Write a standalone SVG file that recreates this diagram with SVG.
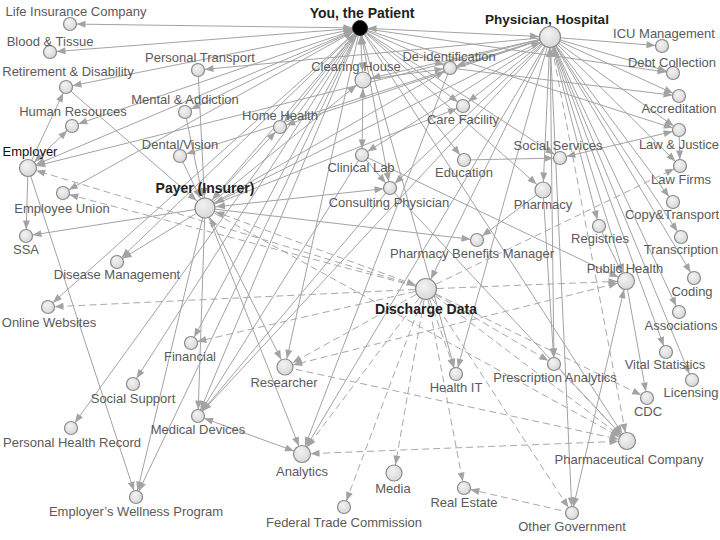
<svg xmlns="http://www.w3.org/2000/svg" width="720" height="540" viewBox="0 0 720 540">
<defs>
<style>
.e{stroke:#a3a3a3;stroke-width:1;fill:none}
.d{stroke:#a8a8a8;stroke-width:1;fill:none;stroke-dasharray:7,4}
.n{fill:url(#g);stroke:#8a8a8a;stroke-width:1.2}
text{font-family:"Liberation Sans",Arial,Helvetica,sans-serif;font-size:13px;fill:#5a5a5a;text-anchor:middle}
.b{font-weight:bold;fill:#222;font-size:14px}
.k{fill:#111}
</style>
<radialGradient id="g" cx="40%" cy="35%" r="70%"><stop offset="0" stop-color="#f3f3f3"/><stop offset="1" stop-color="#d6d6d6"/></radialGradient>
<marker id="ms" markerUnits="userSpaceOnUse" markerWidth="10" markerHeight="8" refX="15.5" refY="3.5" orient="auto-start-reverse" overflow="visible"><path d="M0,0 L9,3.5 L0,7 z" fill="#a3a3a3"/></marker>
<marker id="mm" markerUnits="userSpaceOnUse" markerWidth="10" markerHeight="8" refX="17.5" refY="3.5" orient="auto-start-reverse" overflow="visible"><path d="M0,0 L9,3.5 L0,7 z" fill="#a3a3a3"/></marker>
<marker id="mb" markerUnits="userSpaceOnUse" markerWidth="10" markerHeight="8" refX="20" refY="3.5" orient="auto-start-reverse" overflow="visible"><path d="M0,0 L9,3.5 L0,7 z" fill="#a3a3a3"/></marker>
<marker id="mp" markerUnits="userSpaceOnUse" markerWidth="10" markerHeight="8" refX="16.5" refY="3.5" orient="auto-start-reverse" overflow="visible"><path d="M0,0 L9,3.5 L0,7 z" fill="#a3a3a3"/></marker>
</defs>
<rect width="720" height="540" fill="#fff"/>
<g id="connectors">
<line class="e" x1="360" y1="28" x2="70" y2="24" marker-start="url(#mp)" marker-end="url(#ms)"/>
<line class="e" x1="360" y1="28" x2="50" y2="52" marker-start="url(#mp)" marker-end="url(#ms)"/>
<line class="e" x1="360" y1="28" x2="66" y2="87" marker-start="url(#mp)" marker-end="url(#ms)"/>
<line class="e" x1="360" y1="28" x2="72" y2="126" marker-start="url(#mp)" marker-end="url(#ms)"/>
<line class="e" x1="360" y1="28" x2="28" y2="168" marker-start="url(#mp)" marker-end="url(#mm)"/>
<line class="e" x1="360" y1="28" x2="63" y2="193" marker-start="url(#mp)" marker-end="url(#ms)"/>
<line class="e" x1="360" y1="28" x2="185" y2="112" marker-start="url(#mp)" marker-end="url(#ms)"/>
<line class="e" x1="360" y1="28" x2="280" y2="127" marker-start="url(#mp)" marker-end="url(#ms)"/>
<line class="e" x1="360" y1="28" x2="48" y2="307" marker-end="url(#ms)"/>
<line class="e" x1="360" y1="28" x2="117" y2="262" marker-end="url(#ms)"/>
<line class="e" x1="360" y1="28" x2="363" y2="80" marker-start="url(#mp)" marker-end="url(#mm)"/>
<line class="e" x1="360" y1="28" x2="450" y2="68" marker-end="url(#ms)"/>
<line class="e" x1="360" y1="28" x2="463" y2="106" marker-end="url(#ms)"/>
<line class="e" x1="360" y1="28" x2="464" y2="160" marker-end="url(#ms)"/>
<line class="e" x1="360" y1="28" x2="390" y2="188" marker-start="url(#mp)" marker-end="url(#ms)"/>
<line class="e" x1="360" y1="28" x2="550" y2="37" marker-start="url(#mp)" marker-end="url(#mb)"/>
<line class="e" x1="360" y1="28" x2="205" y2="208" marker-start="url(#mp)" marker-end="url(#mb)"/>
<line class="e" x1="360" y1="28" x2="543" y2="190" marker-end="url(#mm)"/>
<line class="e" x1="360" y1="28" x2="673" y2="73" marker-end="url(#ms)"/>
<line class="e" x1="360" y1="28" x2="679" y2="130" marker-end="url(#ms)"/>
<line class="e" x1="360" y1="28" x2="191" y2="343" marker-end="url(#ms)"/>
<line class="e" x1="360" y1="28" x2="133" y2="384" marker-end="url(#ms)"/>
<line class="e" x1="360" y1="28" x2="71" y2="428" marker-end="url(#ms)"/>
<line class="e" x1="360" y1="28" x2="198" y2="416" marker-end="url(#ms)"/>
<line class="e" x1="360" y1="28" x2="136" y2="497" marker-end="url(#ms)"/>
<line class="e" x1="360" y1="28" x2="285" y2="367" marker-end="url(#mm)"/>
<line class="e" x1="360" y1="28" x2="627" y2="441" marker-end="url(#mm)"/>
<line class="e" x1="360" y1="28" x2="456" y2="374" marker-end="url(#ms)"/>
<line class="e" x1="360" y1="28" x2="560" y2="158" marker-end="url(#ms)"/>
<line class="e" x1="550" y1="37" x2="662" y2="46" marker-end="url(#ms)"/>
<line class="e" x1="550" y1="37" x2="673" y2="73" marker-end="url(#ms)"/>
<line class="e" x1="550" y1="37" x2="679" y2="96" marker-end="url(#ms)"/>
<line class="e" x1="550" y1="37" x2="679" y2="130" marker-end="url(#ms)"/>
<line class="e" x1="550" y1="37" x2="680" y2="166" marker-end="url(#ms)"/>
<line class="e" x1="550" y1="37" x2="673" y2="202" marker-end="url(#ms)"/>
<line class="e" x1="550" y1="37" x2="681" y2="237" marker-end="url(#ms)"/>
<line class="e" x1="550" y1="37" x2="694" y2="278" marker-end="url(#ms)"/>
<line class="e" x1="550" y1="37" x2="679" y2="312" marker-end="url(#ms)"/>
<line class="e" x1="550" y1="37" x2="666" y2="352" marker-end="url(#ms)"/>
<line class="e" x1="550" y1="37" x2="692" y2="380" marker-end="url(#ms)"/>
<line class="e" x1="550" y1="37" x2="626" y2="281" marker-start="url(#mb)" marker-end="url(#mm)"/>
<line class="e" x1="550" y1="37" x2="599" y2="226" marker-end="url(#ms)"/>
<line class="e" x1="550" y1="37" x2="543" y2="190" marker-start="url(#mb)" marker-end="url(#mm)"/>
<line class="e" x1="550" y1="37" x2="572" y2="513" marker-start="url(#mb)" marker-end="url(#ms)"/>
<line class="d" x1="550" y1="37" x2="627" y2="441" marker-end="url(#mm)"/>
<line class="e" x1="550" y1="37" x2="28" y2="168" marker-end="url(#mm)"/>
<line class="e" x1="550" y1="37" x2="205" y2="208" marker-start="url(#mb)" marker-end="url(#mb)"/>
<line class="e" x1="550" y1="37" x2="198" y2="70" marker-end="url(#ms)"/>
<line class="e" x1="550" y1="37" x2="363" y2="80" marker-end="url(#mm)"/>
<line class="e" x1="550" y1="37" x2="450" y2="68" marker-end="url(#ms)"/>
<line class="e" x1="550" y1="37" x2="463" y2="106" marker-end="url(#ms)"/>
<line class="e" x1="550" y1="37" x2="362" y2="155" marker-end="url(#ms)"/>
<line class="e" x1="550" y1="37" x2="390" y2="188" marker-end="url(#ms)"/>
<line class="e" x1="550" y1="37" x2="280" y2="127" marker-end="url(#ms)"/>
<line class="e" x1="550" y1="37" x2="180" y2="156" marker-end="url(#ms)"/>
<line class="e" x1="550" y1="37" x2="198" y2="416" marker-end="url(#ms)"/>
<line class="e" x1="550" y1="37" x2="302" y2="454" marker-end="url(#mm)"/>
<line class="e" x1="550" y1="37" x2="426" y2="289" marker-end="url(#mb)"/>
<line class="e" x1="550" y1="37" x2="456" y2="374" marker-end="url(#ms)"/>
<line class="e" x1="550" y1="37" x2="554" y2="364" marker-start="url(#mb)" marker-end="url(#ms)"/>
<line class="e" x1="205" y1="208" x2="390" y2="188" marker-start="url(#mb)" marker-end="url(#ms)"/>
<line class="e" x1="205" y1="208" x2="477" y2="240" marker-end="url(#ms)"/>
<line class="e" x1="205" y1="208" x2="280" y2="127" marker-end="url(#ms)"/>
<line class="e" x1="205" y1="208" x2="363" y2="80" marker-end="url(#mm)"/>
<line class="e" x1="205" y1="208" x2="450" y2="68" marker-end="url(#ms)"/>
<line class="e" x1="205" y1="208" x2="463" y2="106" marker-end="url(#ms)"/>
<line class="e" x1="205" y1="208" x2="26" y2="236" marker-end="url(#ms)"/>
<line class="e" x1="205" y1="208" x2="117" y2="262" marker-end="url(#ms)"/>
<line class="e" x1="205" y1="208" x2="285" y2="367" marker-start="url(#mb)" marker-end="url(#mm)"/>
<line class="e" x1="205" y1="208" x2="302" y2="454" marker-end="url(#mm)"/>
<line class="e" x1="205" y1="208" x2="136" y2="497" marker-end="url(#ms)"/>
<line class="e" x1="205" y1="208" x2="198" y2="416" marker-end="url(#ms)"/>
<line class="e" x1="66" y1="87" x2="205" y2="208" marker-end="url(#mb)"/>
<line class="e" x1="198" y1="70" x2="205" y2="208" marker-end="url(#mb)"/>
<line class="e" x1="185" y1="112" x2="205" y2="208" marker-end="url(#mb)"/>
<line class="e" x1="180" y1="156" x2="205" y2="208" marker-end="url(#mb)"/>
<line class="d" x1="205" y1="208" x2="627" y2="441" marker-end="url(#mm)"/>
<line class="d" x1="426" y1="289" x2="205" y2="208" marker-start="url(#mb)" marker-end="url(#mb)"/>
<line class="e" x1="28" y1="168" x2="66" y2="87" marker-end="url(#ms)"/>
<line class="e" x1="28" y1="168" x2="72" y2="126" marker-start="url(#mm)" marker-end="url(#ms)"/>
<line class="e" x1="28" y1="168" x2="26" y2="236" marker-end="url(#ms)"/>
<line class="e" x1="28" y1="168" x2="136" y2="497" marker-end="url(#ms)"/>
<line class="d" x1="426" y1="289" x2="28" y2="168" marker-end="url(#mm)"/>
<line class="d" x1="426" y1="289" x2="63" y2="193" marker-end="url(#ms)"/>
<line class="d" x1="426" y1="289" x2="48" y2="307" marker-end="url(#ms)"/>
<line class="d" x1="426" y1="289" x2="191" y2="343" marker-end="url(#ms)"/>
<line class="d" x1="426" y1="289" x2="285" y2="367" marker-end="url(#mm)"/>
<line class="d" x1="426" y1="289" x2="302" y2="454" marker-end="url(#mm)"/>
<line class="d" x1="426" y1="289" x2="344" y2="507" marker-end="url(#ms)"/>
<line class="d" x1="426" y1="289" x2="394" y2="473" marker-end="url(#mm)"/>
<line class="d" x1="426" y1="289" x2="464" y2="488" marker-end="url(#ms)"/>
<line class="d" x1="426" y1="289" x2="456" y2="374" marker-end="url(#ms)"/>
<line class="d" x1="426" y1="289" x2="554" y2="364" marker-end="url(#ms)"/>
<line class="d" x1="426" y1="289" x2="627" y2="441" marker-end="url(#mm)"/>
<line class="d" x1="426" y1="289" x2="572" y2="513" marker-end="url(#ms)"/>
<line class="d" x1="426" y1="289" x2="647" y2="398" marker-end="url(#ms)"/>
<line class="d" x1="426" y1="289" x2="626" y2="281" marker-end="url(#mm)"/>
<line class="d" x1="426" y1="289" x2="680" y2="166" marker-end="url(#ms)"/>
<line class="e" x1="363" y1="80" x2="362" y2="155" marker-start="url(#mm)" marker-end="url(#ms)"/>
<line class="e" x1="363" y1="80" x2="450" y2="68" marker-end="url(#ms)"/>
<line class="e" x1="362" y1="155" x2="390" y2="188" marker-end="url(#ms)"/>
<line class="e" x1="362" y1="155" x2="626" y2="281" marker-end="url(#mm)"/>
<line class="e" x1="362" y1="155" x2="198" y2="416" marker-end="url(#ms)"/>
<line class="e" x1="464" y1="160" x2="560" y2="158" marker-end="url(#ms)"/>
<line class="e" x1="679" y1="130" x2="560" y2="158" marker-start="url(#ms)" marker-end="url(#ms)"/>
<line class="e" x1="679" y1="130" x2="680" y2="166" marker-end="url(#ms)"/>
<line class="e" x1="543" y1="190" x2="477" y2="240" marker-end="url(#ms)"/>
<line class="e" x1="543" y1="190" x2="554" y2="364" marker-end="url(#ms)"/>
<line class="e" x1="599" y1="226" x2="626" y2="281" marker-end="url(#mm)"/>
<line class="e" x1="626" y1="281" x2="572" y2="513" marker-start="url(#mm)" marker-end="url(#ms)"/>
<line class="e" x1="626" y1="281" x2="647" y2="398" marker-end="url(#ms)"/>
<line class="e" x1="198" y1="416" x2="302" y2="454" marker-start="url(#ms)" marker-end="url(#mm)"/>
<line class="e" x1="450" y1="68" x2="302" y2="454" marker-end="url(#mm)"/>
<line class="e" x1="450" y1="68" x2="679" y2="96" marker-end="url(#ms)"/>
<line class="e" x1="390" y1="188" x2="627" y2="441" marker-end="url(#mm)"/>
<line class="e" x1="390" y1="188" x2="198" y2="416" marker-end="url(#ms)"/>
<line class="d" x1="626" y1="281" x2="285" y2="367" marker-start="url(#mm)" marker-end="url(#mm)"/>
<line class="d" x1="285" y1="367" x2="627" y2="441" marker-end="url(#mm)"/>
<line class="d" x1="627" y1="441" x2="302" y2="454" marker-start="url(#mm)" marker-end="url(#mm)"/>
<line class="d" x1="572" y1="513" x2="464" y2="488" marker-end="url(#ms)"/>
<line class="d" x1="554" y1="364" x2="627" y2="441" marker-end="url(#mm)"/>
</g>
<g id="n-patient"><circle cx="360" cy="28" r="7.5" fill="#000" stroke="#333" stroke-width="1"/><text class="b" x="362" y="18">You, the Patient</text></g>
<g id="n-physician"><circle class="n" cx="550" cy="37" r="10.5"/><text class="b" x="547" y="24" style="font-size:13.5px">Physician, Hospital</text></g>
<g id="n-payer"><circle class="n" cx="205" cy="208" r="10"/><text class="b" x="205" y="193">Payer (Insurer)</text></g>
<g id="n-employer"><circle class="n" cx="28" cy="168" r="8.5"/><text class="k" x="30" y="156">Employer</text></g>
<g id="n-discharge"><circle class="n" cx="426" cy="289" r="10.5"/><text class="b" x="426" y="314">Discharge Data</text></g>
<g id="n-lifeins"><circle class="n" cx="70" cy="24" r="6.5"/><text x="76" y="16">Life Insurance Company</text></g>
<g id="n-blood"><circle class="n" cx="50" cy="52" r="6.5"/><text x="50" y="46">Blood &amp; Tissue</text></g>
<g id="n-retire"><circle class="n" cx="66" cy="87" r="6.5"/><text x="68" y="76">Retirement &amp; Disability</text></g>
<g id="n-hr"><circle class="n" cx="72" cy="126" r="6.5"/><text x="73" y="116">Human Resources</text></g>
<g id="n-transport"><circle class="n" cx="198" cy="70" r="6.5"/><text x="200" y="62">Personal Transport</text></g>
<g id="n-mental"><circle class="n" cx="185" cy="112" r="6.5"/><text x="185" y="104">Mental &amp; Addiction</text></g>
<g id="n-dental"><circle class="n" cx="180" cy="156" r="6.5"/><text x="180" y="149">Dental/Vision</text></g>
<g id="n-homehealth"><circle class="n" cx="280" cy="127" r="6.5"/><text x="280" y="120">Home Health</text></g>
<g id="n-clearing"><circle class="n" cx="363" cy="80" r="8"/><text x="356" y="71">Clearing House</text></g>
<g id="n-deid"><circle class="n" cx="450" cy="68" r="6.5"/><text x="449" y="61">De-identification</text></g>
<g id="n-care"><circle class="n" cx="463" cy="106" r="6.5"/><text x="463" y="124">Care Facility</text></g>
<g id="n-clinlab"><circle class="n" cx="362" cy="155" r="6.5"/><text x="361" y="172">Clinical Lab</text></g>
<g id="n-education"><circle class="n" cx="464" cy="160" r="6.5"/><text x="464" y="177">Education</text></g>
<g id="n-consult"><circle class="n" cx="390" cy="188" r="6.5"/><text x="389" y="207">Consulting Physician</text></g>
<g id="n-social"><circle class="n" cx="560" cy="158" r="6.5"/><text x="558" y="150">Social Services</text></g>
<g id="n-pharmacy"><circle class="n" cx="543" cy="190" r="8"/><text x="543" y="209">Pharmacy</text></g>
<g id="n-union"><circle class="n" cx="63" cy="193" r="6.5"/><text x="62" y="213">Employee Union</text></g>
<g id="n-ssa"><circle class="n" cx="26" cy="236" r="6.5"/><text x="26" y="254">SSA</text></g>
<g id="n-disease"><circle class="n" cx="117" cy="262" r="6.5"/><text x="117" y="279">Disease Management</text></g>
<g id="n-online"><circle class="n" cx="48" cy="307" r="6.5"/><text x="49" y="327">Online Websites</text></g>
<g id="n-pbm"><circle class="n" cx="477" cy="240" r="6.5"/><text x="472" y="258">Pharmacy Benefits Manager</text></g>
<g id="n-registries"><circle class="n" cx="599" cy="226" r="6.5"/><text x="600" y="243">Registries</text></g>
<g id="n-publichealth"><circle class="n" cx="626" cy="281" r="8.5"/><text x="625" y="273">Public Health</text></g>
<g id="n-icu"><circle class="n" cx="662" cy="46" r="6.5"/><text x="664" y="38">ICU Management</text></g>
<g id="n-debt"><circle class="n" cx="673" cy="73" r="6.5"/><text x="672" y="67">Debt Collection</text></g>
<g id="n-accred"><circle class="n" cx="679" cy="96" r="6.5"/><text x="679" y="113">Accreditation</text></g>
<g id="n-law"><circle class="n" cx="679" cy="130" r="6.5"/><text x="679" y="149">Law &amp; Justice</text></g>
<g id="n-lawfirms"><circle class="n" cx="680" cy="166" r="6.5"/><text x="681" y="184">Law Firms</text></g>
<g id="n-copy"><circle class="n" cx="673" cy="202" r="6.5"/><text x="672" y="219">Copy&amp;Transport</text></g>
<g id="n-transcription"><circle class="n" cx="681" cy="237" r="6.5"/><text x="681" y="254">Transcription</text></g>
<g id="n-coding"><circle class="n" cx="694" cy="278" r="6.5"/><text x="692" y="296">Coding</text></g>
<g id="n-assoc"><circle class="n" cx="679" cy="312" r="6.5"/><text x="681" y="330">Associations</text></g>
<g id="n-vital"><circle class="n" cx="666" cy="352" r="6.5"/><text x="665" y="369">Vital Statistics</text></g>
<g id="n-licensing"><circle class="n" cx="692" cy="380" r="6.5"/><text x="691" y="397">Licensing</text></g>
<g id="n-cdc"><circle class="n" cx="647" cy="398" r="6.5"/><text x="648" y="416">CDC</text></g>
<g id="n-pharma"><circle class="n" cx="627" cy="441" r="8.5"/><text x="629" y="464">Pharmaceutical Company</text></g>
<g id="n-othergov"><circle class="n" cx="572" cy="513" r="6.5"/><text x="572" y="531">Other Government</text></g>
<g id="n-realestate"><circle class="n" cx="464" cy="488" r="6.5"/><text x="464" y="507">Real Estate</text></g>
<g id="n-media"><circle class="n" cx="394" cy="473" r="8"/><text x="393" y="493">Media</text></g>
<g id="n-ftc"><circle class="n" cx="344" cy="507" r="6.5"/><text x="344" y="527">Federal Trade Commission</text></g>
<g id="n-analytics"><circle class="n" cx="302" cy="454" r="8.5"/><text x="302" y="476">Analytics</text></g>
<g id="n-researcher"><circle class="n" cx="285" cy="367" r="8"/><text x="284" y="387">Researcher</text></g>
<g id="n-meddev"><circle class="n" cx="198" cy="416" r="6.5"/><text x="198" y="434">Medical Devices</text></g>
<g id="n-socsupport"><circle class="n" cx="133" cy="384" r="6.5"/><text x="133" y="403">Social Support</text></g>
<g id="n-phr"><circle class="n" cx="71" cy="428" r="6.5"/><text x="72" y="447">Personal Health Record</text></g>
<g id="n-wellness"><circle class="n" cx="136" cy="497" r="6.5"/><text x="136" y="516">Employer’s Wellness Program</text></g>
<g id="n-financial"><circle class="n" cx="191" cy="343" r="6.5"/><text x="190" y="361">Financial</text></g>
<g id="n-healthit"><circle class="n" cx="456" cy="374" r="6.5"/><text x="456" y="392">Health IT</text></g>
<g id="n-rxanalytics"><circle class="n" cx="554" cy="364" r="6.5"/><text x="555" y="382">Prescription Analytics</text></g>
</svg>
